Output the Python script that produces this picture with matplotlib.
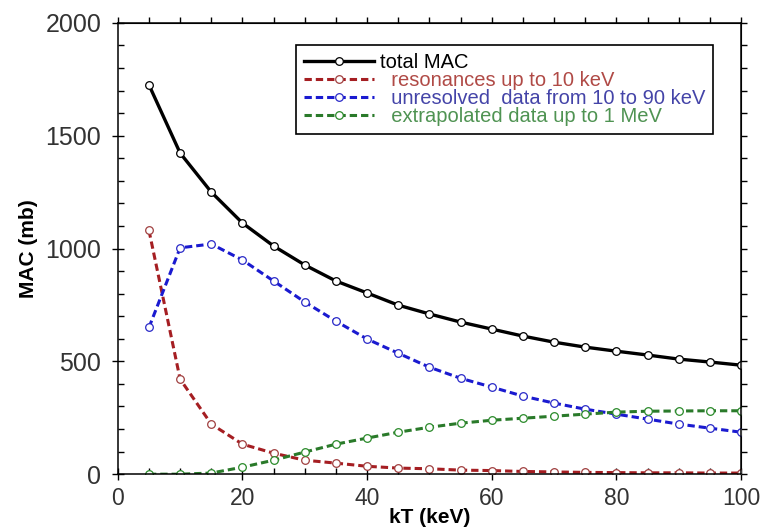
import matplotlib
matplotlib.use('Agg')
import matplotlib.pyplot as plt
from matplotlib.ticker import MultipleLocator

plt.rcParams['font.family'] = ['Liberation Sans', 'DejaVu Sans']

# temperatura kT (keV) e componentes da MAC (mb)
kT = [5, 10, 15, 20, 25, 30, 35, 40, 45, 50, 55, 60, 65, 70, 75, 80, 85, 90, 95, 100]
total_mac = [1725, 1423, 1250, 1113, 1011, 927, 856, 803, 749, 710, 674, 643, 612, 585,
             563, 545, 528, 510, 497, 483]
ressonancias = [1080, 421, 222, 133, 93, 62, 49, 35, 27, 24, 18, 16, 12, 10, 8, 7, 6, 6, 5, 5]
nao_resolvidos = [650, 1003, 1020, 949, 856, 763, 678, 599, 536, 474, 425, 386, 346, 315,
                  288, 266, 244, 222, 204, 186]
extrapolados = [0, 0, 5, 31, 62, 98, 133, 160, 186, 208, 226, 239, 248, 257, 266, 275,
                279, 280, 281, 281]

fig = plt.figure(figsize=(7.6, 5.31), dpi=100)
ax = fig.add_axes([0.155, 0.107, 0.82, 0.85])

tracejado = (0, (2.4, 1.3))
mk = dict(marker='o', markersize=5.5, markerfacecolor='white', markeredgewidth=0.9)

ax.plot(kT, total_mac, color='black', lw=2.4, markeredgecolor='black', label='total MAC', **mk)
ax.plot(kT, ressonancias, color='#a51e22', lw=2.2, ls=tracejado, markeredgecolor='#a04040',
        label='  resonances up to 10 keV', **mk)
ax.plot(kT, nao_resolvidos, color='#1a1ad0', lw=2.2, ls=tracejado, markeredgecolor='#2a2ac8',
        label='  unresolved  data from 10 to 90 keV', **mk)
ax.plot(kT, extrapolados, color='#2a7a2a', lw=2.2, ls=tracejado, markeredgecolor='#2a8a2a',
        label='  extrapolated data up to 1 MeV', **mk)

ax.set_xlim(0, 100)
ax.set_ylim(0, 2000)
ax.xaxis.set_major_locator(MultipleLocator(20))
ax.xaxis.set_minor_locator(MultipleLocator(5))
ax.yaxis.set_major_locator(MultipleLocator(500))
ax.yaxis.set_minor_locator(MultipleLocator(100))
ax.tick_params(which='major', direction='inout', length=8, width=1, labelcolor='#333333')
ax.tick_params(axis='y', which='major', pad=8, labelsize=18)
ax.tick_params(axis='x', which='major', pad=5, labelsize=16.5)
ax.tick_params(which='minor', direction='in', length=4, width=1)
for s in ax.spines.values():
    s.set_linewidth(1.1)

# eixos de cima e da direita so com os tracinhos, virados para fora
topo = ax.secondary_xaxis('top')
topo.xaxis.set_major_locator(MultipleLocator(5))
topo.tick_params(direction='out', length=4, width=1, labeltop=False)
direita = ax.secondary_yaxis('right')
direita.yaxis.set_major_locator(MultipleLocator(100))
direita.tick_params(direction='out', length=4, width=1, labelright=False)

ax.set_xlabel('kT (keV)', fontsize=15, fontweight='bold', labelpad=-1)
ax.set_ylabel('MAC (mb)', fontsize=15, fontweight='bold', labelpad=5)

leg = ax.legend(loc='upper right', bbox_to_anchor=(0.955, 0.951), fontsize=14.5,
                handlelength=3.5, handletextpad=0.25, labelspacing=-0.05,
                borderpad=0.4, borderaxespad=0, fancybox=False, framealpha=1,
                edgecolor='black')
leg.get_frame().set_linewidth(1.2)
for txt, cor in zip(leg.get_texts(), ['black', '#b04a46', '#4444a8', '#4f9352']):
    txt.set_color(cor)

fig.savefig('out.png', dpi=100)
